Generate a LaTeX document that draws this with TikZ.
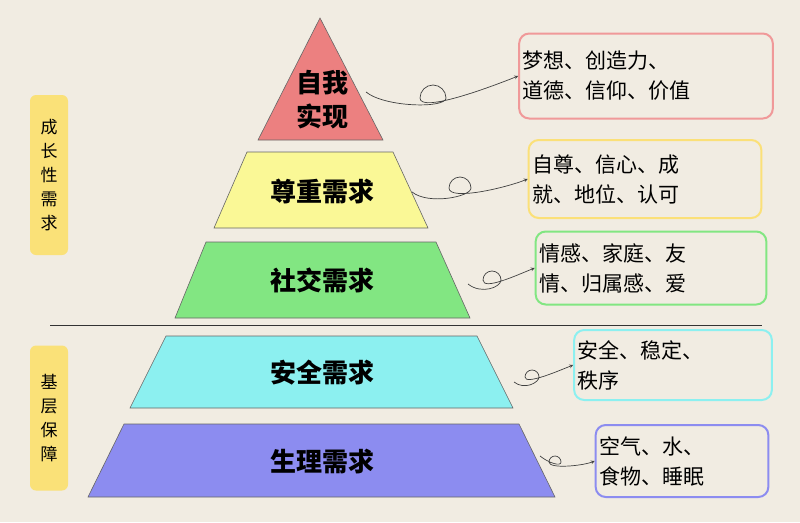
\documentclass[tikz,border=0pt]{standalone}
\usepackage{fontspec}
\setmainfont{Noto Sans CJK SC}
\usetikzlibrary{calc}
\definecolor{BgBeige}{RGB}{241,236,226}
\definecolor{LayerPink}{RGB}{236,128,128}
\definecolor{LayerYellow}{RGB}{250,248,150}
\definecolor{LayerGreen}{RGB}{130,230,130}
\definecolor{LayerCyan}{RGB}{140,240,240}
\definecolor{LayerBlue}{RGB}{140,140,240}
\definecolor{SideYellow}{RGB}{250,225,120}
\tikzset{
  layer/.style={draw=black!60, line width=0.6pt},
  layertext/.style={font=\fontsize{26}{30}\selectfont\bfseries},
  infobox/.style={draw, line width=2pt, rounded corners=10pt, fill=BgBeige, align=left, text width=#1, font=\fontsize{21}{30}\selectfont},
  sidebox/.style={fill=SideYellow, rounded corners=6pt, align=center, font=\fontsize{17}{24}\selectfont},
  loopy/.style={black!75, line width=0.7pt, -stealth}
}
% loop arrow: start, loop center x, y, radius, end
\newcommand{\looparrow}[5]{
  \draw[loopy] (#1) .. controls +(1.5*#4,1.2*#4) and +(0,0.8*#4) .. (#2+#4,#3)
    .. controls +(0,-0.55*#4) and +(0.55*#4,0) .. (#2,#3-#4)
    .. controls +(-0.55*#4,0) and +(0,-0.55*#4) .. (#2-#4,#3)
    .. controls +(0,1.2*#4) and +(-2*#4,0.8*#4) .. (#5);
}
\begin{document}
\begin{tikzpicture}[x=1pt,y=-1pt]
  \fill[BgBeige] (0,0) rectangle (800,522);
  \useasboundingbox (0,0) rectangle (800,522);

  % ---------- pyramid
  \draw[layer, fill=LayerPink] (320,18) -- (383,140) -- (258,140) -- cycle;
  \draw[layer, fill=LayerYellow] (247,152) -- (393,152) -- (428,228) -- (214,228) -- cycle;
  \draw[layer, fill=LayerGreen] (206,242) -- (436,242) -- (470,318) -- (175,318) -- cycle;
  \draw[layer, fill=LayerCyan] (166,336) -- (477,336) -- (513,408) -- (130,408) -- cycle;
  \draw[layer, fill=LayerBlue] (124,424) -- (519,424) -- (555,497) -- (88,497) -- cycle;

  \node[layertext, align=center, font=\fontsize{26}{34}\selectfont\bfseries] (selfText) at (322,100) {自我\\实现};
  \node[layertext] (esteemText) at (322,192) {尊重需求};
  \node[layertext] (socialText) at (322,280) {社交需求};
  \node[layertext] (safetyText) at (322,373) {安全需求};
  \node[layertext] (bodyText) at (322,462) {生理需求};

  % divider
  \draw[black!80, line width=0.8pt] (50,325) -- (762,325);

  % ---------- side labels
  \node[sidebox, minimum width=38pt, minimum height=160pt] (growBox) at (49,175) {成\\长\\性\\需\\求};
  \node[sidebox, minimum width=38pt, minimum height=145pt] (baseBox) at (49,418) {基\\层\\保\\障};

  % ---------- info boxes
  \node[infobox=247pt, draw=LayerPink!80, minimum height=85pt] (selfBox) at (646,76) {梦想、创造力、\\道德、信仰、价值};
  \node[infobox=226pt, draw=LayerYellow!80!orange, minimum height=78pt] (esteemBox) at (645,179) {自尊、信心、成\\就、地位、认可};
  \node[infobox=224pt, draw=LayerGreen, minimum height=73pt] (socialBox) at (651,268) {情感、家庭、友\\情、归属感、爱};
  \node[infobox=191pt, draw=LayerCyan, minimum height=70pt] (safetyBox) at (673,365) {安全、稳定、\\秩序};
  \node[infobox=166pt, draw=LayerBlue, minimum height=72pt] (bodyBox) at (682,461) {空气、水、\\食物、睡眠};

  % ---------- loop arrows
  \coordinate (selfStart) at (366,92);
  \coordinate (esteemStart) at (412,192);
  \coordinate (socialStart) at (468,284);
  \coordinate (safetyStart) at (514,382);
  \coordinate (bodyStart) at (540,456);
  \looparrow{selfStart}{433}{98}{13}{selfBox.west}
  \looparrow{esteemStart}{460}{188}{11}{esteemBox.west}
  \looparrow{socialStart}{492}{280}{9}{socialBox.west}
  \looparrow{safetyStart}{532}{377}{7}{safetyBox.west}
  \looparrow{bodyStart}{555}{462}{6}{bodyBox.west}
\end{tikzpicture}
\end{document}
